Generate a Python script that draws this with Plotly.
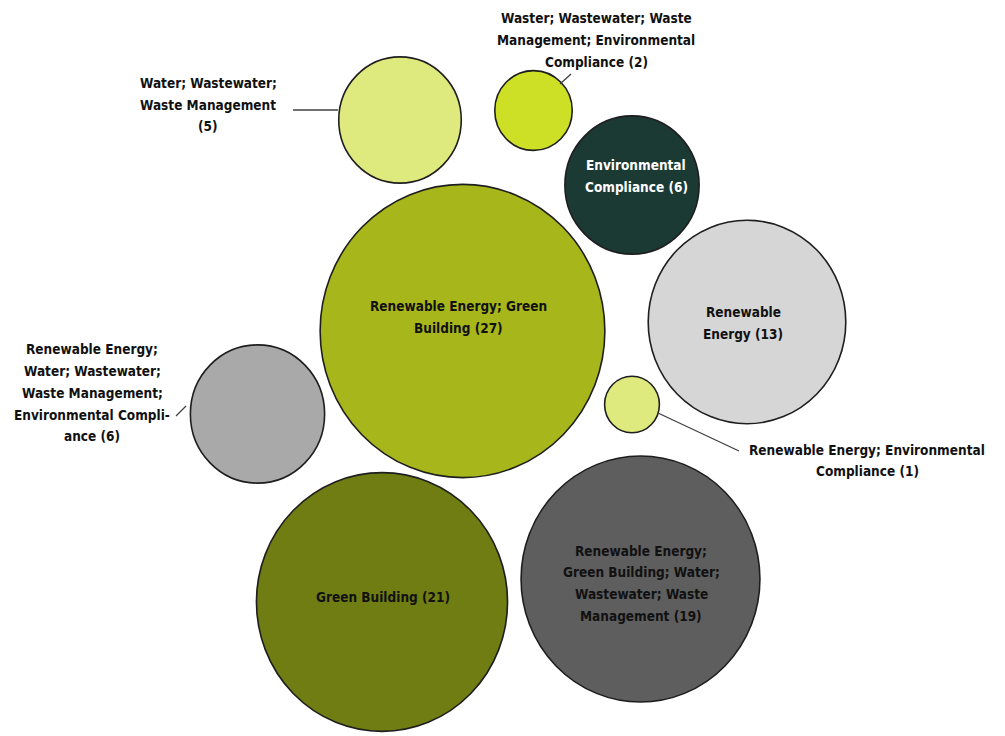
import plotly.graph_objects as go
import math

# ---- data ----
categories = [
    "Renewable Energy; Green Building",
    "Green Building",
    "Renewable Energy; Green Building; Water; Wastewater; Waste Management",
    "Renewable Energy",
    "Environmental Compliance",
    "Renewable Energy; Water; Wastewater; Waste Management; Environmental Compliance",
    "Water; Wastewater; Waste Management",
    "Waster; Wastewater; Waste Management; Environmental Compliance",
    "Renewable Energy; Environmental Compliance",
]
values = [27, 21, 19, 13, 6, 6, 5, 2, 1]
label_texts = [
    "Renewable Energy; Green<br>Building (27)",
    "Green Building (21)",
    "Renewable Energy;<br>Green Building; Water;<br>Wastewater; Waste<br>Management (19)",
    "Renewable<br>Energy (13)",
    "Environmental<br>Compliance (6)",
    "Renewable Energy;<br>Water; Wastewater;<br>Waste Management;<br>Environmental Compli-<br>ance (6)",
    "Water; Wastewater;<br>Waste Management<br>(5)",
    "Waster; Wastewater; Waste<br>Management; Environmental<br>Compliance (2)",
    "Renewable Energy; Environmental<br>Compliance (1)",
]

# ---- layout (positions / styles) ----
bubble_x = [462.5, 382, 640.5, 747, 632, 257.5, 400, 533.5, 632]
bubble_y = [331, 602, 579, 322, 185, 414, 120, 110.5, 404.5]
colors = ["#A7B61A", "#6F7D12", "#5E5E5E", "#D6D6D6", "#1C3A34",
          "#A9A9A9", "#DFEA7E", "#CEE026", "#DFEA7E"]
label_x = [458, 382.5, 641, 743, 636, 92, 208, 596, 867]
label_y = [317, 597, 583.3, 323.3, 175.7, 392.8, 104.5, 40, 460.5]
label_colors = ["#111111", "#111111", "#111111", "#111111", "#FFFFFF",
                "#111111", "#111111", "#111111", "#111111"]
leaders = [  # (x0, y0, x1, y1) leader lines for outside labels
    (293, 110, 338, 110),
    (560, 84, 571, 74),
    (176, 416, 186, 406),
    (658, 413, 739, 451),
]

RADIUS_PER_SQRT = 27.4   # px of radius per sqrt(value)
V_STRETCH = 1.03         # bubbles are drawn slightly taller than wide
LINE_H = 21.7
FONT = "DejaVu Sans Condensed, DejaVu Sans, sans-serif"
FONT_SIZE = 13.5

fig = go.Figure()

# bubbles as data-coordinate ellipses sized from the values
for v, cx, cy, col in zip(values, bubble_x, bubble_y, colors):
    r = RADIUS_PER_SQRT * math.sqrt(v)
    fig.add_shape(type="circle", xref="x", yref="y",
                  x0=cx - r, x1=cx + r,
                  y0=cy - r * V_STRETCH, y1=cy + r * V_STRETCH,
                  fillcolor=col, line=dict(color="#1E1E1E", width=1.6),
                  layer="below")

# invisible hover points
fig.add_trace(go.Scatter(
    x=bubble_x, y=bubble_y, mode="markers",
    text=categories, customdata=values,
    hovertemplate="%{text}: %{customdata}<extra></extra>",
    marker=dict(size=20, opacity=0),
))

# labels, line by line
for t, x, y, c in zip(label_texts, label_x, label_y, label_colors):
    lines = t.split("<br>")
    n = len(lines)
    for i, ln in enumerate(lines):
        fig.add_annotation(x=x, y=y + (i - (n - 1) / 2) * LINE_H,
                           text="<b>" + ln + "</b>", showarrow=False,
                           xref="x", yref="y", align="center",
                           xanchor="center", yanchor="middle",
                           font=dict(family=FONT, size=FONT_SIZE, color=c))

for (x0, y0, x1, y1) in leaders:
    fig.add_shape(type="line", x0=x0, y0=y0, x1=x1, y1=y1, xref="x", yref="y",
                  line=dict(color="#404040", width=1.3), layer="below")

# page body has an 8px margin: shift ranges so data units equal page pixels
fig.update_layout(
    width=1005, height=736,
    margin=dict(l=0, r=0, t=0, b=0),
    paper_bgcolor="white", plot_bgcolor="white",
    showlegend=False,
    xaxis=dict(range=[8, 1013], visible=False, fixedrange=True),
    yaxis=dict(range=[744, 8], visible=False, fixedrange=True),
)

fig.write_html("out.html")
